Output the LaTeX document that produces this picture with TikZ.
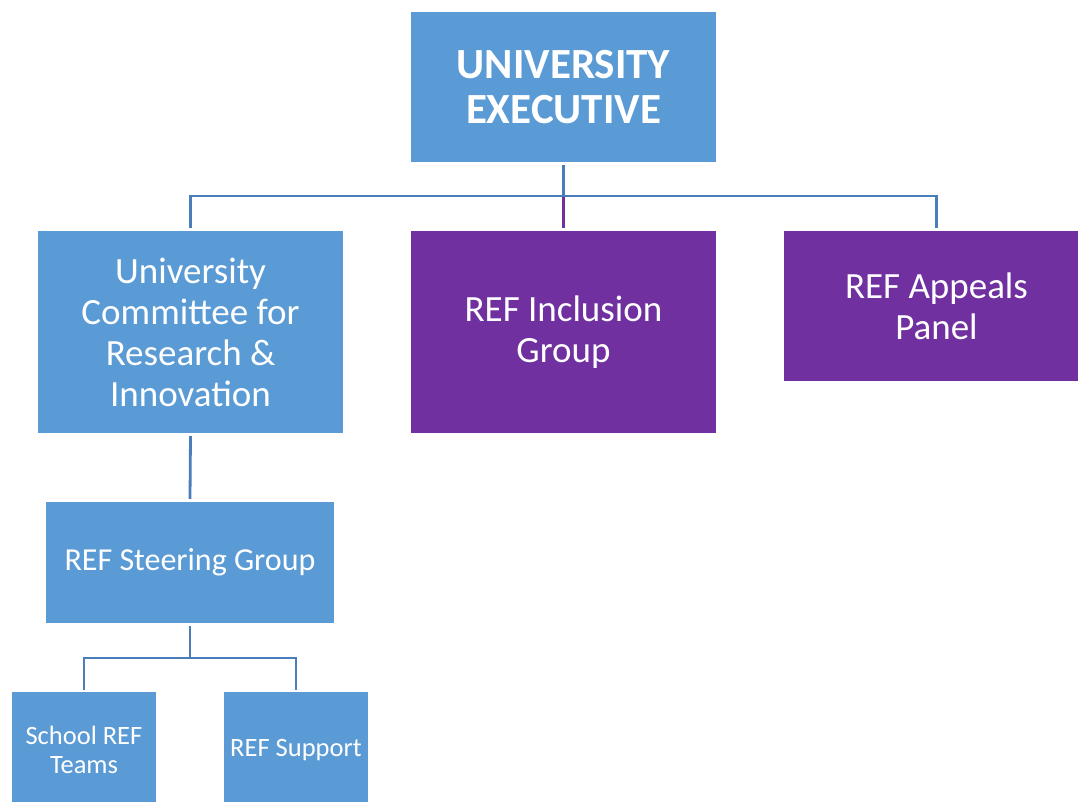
\documentclass[tikz,border=0pt]{standalone}
\usepackage{fontspec}
\setmainfont{Carlito}
\definecolor{boxblue}{HTML}{5B9BD5}
\definecolor{boxpurple}{HTML}{7030A0}
\definecolor{linkblue}{HTML}{4A7EBB}
\begin{document}
\begin{tikzpicture}[x=1pt,y=-1pt,
  orgbox/.style={draw=none,inner sep=0pt,align=center,text=white,anchor=center},
  blue box/.style={orgbox,fill=boxblue},
  purple box/.style={orgbox,fill=boxpurple},
  link/.style={draw=linkblue,line width=2.8pt},
  purplelink/.style={draw=boxpurple,line width=2.8pt}]
\useasboundingbox (0,0) rectangle (1078,802);
\clip (0,0) rectangle (1078,802);
\node[blue box,minimum width=305pt,minimum height=150pt,font=\fontsize{43}{45}\selectfont\bfseries] (ue) at (563.5,87) {UNIVERSITY\\EXECUTIVE};
\node[blue box,minimum width=305pt,minimum height=202pt,font=\fontsize{37}{41}\selectfont] (ucri) at (190.5,332) {University\\Committee for\\Research \&\\Innovation};
\node[purple box,minimum width=305pt,minimum height=202pt,font=\fontsize{37}{41}\selectfont] (incl) at (563.5,332) {REF Inclusion\\Group};
\node[purple box,minimum width=305pt,minimum height=150pt,font=\fontsize{37}{41}\selectfont] (app) at (936.5,306) {REF Appeals\\Panel};
\node[blue box,minimum width=288pt,minimum height=121pt,font=\fontsize{32}{36}\selectfont] (steer) at (190,562.5) {REF Steering Group};
\node[blue box,minimum width=144pt,minimum height=116pt,font=\fontsize{26.5}{29}\selectfont] (school) at (84,750) {School REF\\Teams};
\node[blue box,minimum width=144pt,minimum height=116pt,font=\fontsize{26.5}{29}\selectfont] (support) at (296,750) {REF Support};
\coordinate (bar) at (0,196);
\coordinate (bar2) at (0,658);
\draw[purplelink] (incl.north |- bar) -- ([yshift=3pt]incl.north);
\draw[link] ([yshift=-3pt]ue.south) -- (ue.south |- bar);
\draw[link] ([yshift=3pt]ucri.north) -- (ucri.north |- bar) -- (app.north |- bar) -- ([yshift=3pt]app.north);
\draw[link] ([yshift=-3pt]ucri.south) -- ([yshift=3pt]steer.north);
\draw[link] ([yshift=-3pt]steer.south) -- (steer.south |- bar2);
\draw[link] ([yshift=2pt]school.north) -- (school.north |- bar2) -- (support.north |- bar2) -- ([yshift=2pt]support.north);
\end{tikzpicture}
\end{document}
